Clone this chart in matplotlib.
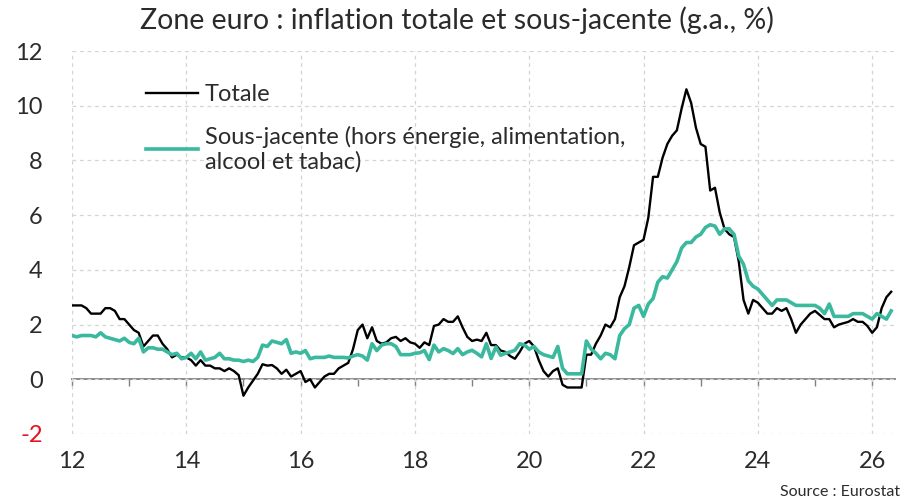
import numpy as np
import matplotlib.pyplot as plt

plt.rcParams['font.family'] = ['Lato', 'DejaVu Sans']

# Inflation totale (g.a., %), mensuel, janv. 2012 -> mai 2026
totale_2012 = [2.7, 2.7, 2.7, 2.6, 2.4, 2.4, 2.4, 2.6, 2.6, 2.5, 2.2, 2.2]
totale_2013 = [2.0, 1.8, 1.7, 1.2, 1.4, 1.6, 1.6, 1.3, 1.1, 0.8, 0.9, 0.8]
totale_2014 = [0.8, 0.7, 0.5, 0.7, 0.5, 0.5, 0.4, 0.4, 0.3, 0.4, 0.3, 0.15]
totale_2015 = [-0.6, -0.3, -0.05, 0.2, 0.55, 0.5, 0.52, 0.4, 0.2, 0.35, 0.1, 0.2]
totale_2016 = [0.3, -0.1, 0.0, -0.3, -0.1, 0.1, 0.2, 0.2, 0.4, 0.5, 0.6, 1.1]
totale_2017 = [1.8, 2.0, 1.5, 1.9, 1.4, 1.3, 1.35, 1.5, 1.55, 1.4, 1.5, 1.35]
totale_2018 = [1.3, 1.15, 1.35, 1.25, 1.95, 2.0, 2.2, 2.1, 2.1, 2.3, 1.9, 1.55]
totale_2019 = [1.4, 1.45, 1.4, 1.7, 1.25, 1.25, 1.05, 1.0, 0.85, 0.75, 1.0, 1.3]
totale_2020 = [1.4, 1.2, 0.7, 0.3, 0.1, 0.3, 0.4, -0.2, -0.3, -0.3, -0.3, -0.3]
totale_2021 = [0.9, 0.9, 1.3, 1.6, 2.0, 1.9, 2.2, 3.0, 3.4, 4.1, 4.9, 5.0]
totale_2022 = [5.1, 5.9, 7.4, 7.4, 8.1, 8.6, 8.9, 9.1, 9.9, 10.6, 10.1, 9.2]
totale_2023 = [8.6, 8.5, 6.9, 7.0, 6.1, 5.5, 5.3, 5.2, 4.3, 2.9, 2.4, 2.9]
totale_2024 = [2.8, 2.6, 2.4, 2.4, 2.6, 2.5, 2.6, 2.2, 1.7, 2.0, 2.2, 2.4]
totale_2025 = [2.5, 2.35, 2.2, 2.2, 1.9, 2.0, 2.05, 2.1, 2.2, 2.1, 2.1, 1.95]
totale_2026 = [1.7, 1.9, 2.6, 3.0, 3.2]

# Inflation sous-jacente (hors énergie, alimentation, alcool et tabac)
sj_2012 = [1.6, 1.55, 1.6, 1.6, 1.6, 1.55, 1.7, 1.55, 1.5, 1.45, 1.4, 1.5]
sj_2013 = [1.35, 1.3, 1.5, 1.0, 1.15, 1.15, 1.1, 1.1, 1.0, 0.9, 0.95, 0.75]
sj_2014 = [0.8, 0.95, 0.75, 1.0, 0.7, 0.75, 0.8, 0.95, 0.75, 0.75, 0.7, 0.7]
sj_2015 = [0.65, 0.7, 0.65, 0.8, 1.25, 1.2, 1.4, 1.35, 1.3, 1.45, 0.95, 1.0]
sj_2016 = [0.95, 1.05, 0.75, 0.8, 0.8, 0.8, 0.85, 0.8, 0.8, 0.8, 0.78, 0.85]
sj_2017 = [0.9, 0.85, 0.7, 1.3, 1.05, 1.25, 1.3, 1.3, 1.2, 0.9, 0.9, 0.9]
sj_2018 = [0.95, 0.97, 1.05, 0.72, 1.25, 1.0, 1.12, 1.05, 0.94, 1.12, 0.9, 1.0]
sj_2019 = [1.06, 0.95, 0.82, 1.3, 0.76, 1.18, 0.88, 0.95, 1.0, 1.06, 1.3, 1.25]
sj_2020 = [1.1, 1.2, 1.0, 0.9, 0.85, 0.8, 1.2, 0.4, 0.2, 0.2, 0.2, 0.2]
sj_2021 = [1.4, 1.1, 0.95, 0.75, 0.95, 0.9, 0.75, 1.6, 1.85, 2.0, 2.6, 2.7]
sj_2022 = [2.3, 2.75, 2.95, 3.55, 3.75, 3.7, 4.0, 4.3, 4.8, 5.0, 5.0, 5.2]
sj_2023 = [5.3, 5.55, 5.65, 5.6, 5.3, 5.5, 5.5, 5.3, 4.5, 4.2, 3.6, 3.4]
sj_2024 = [3.3, 3.1, 2.9, 2.7, 2.9, 2.9, 2.9, 2.8, 2.7, 2.7, 2.7, 2.7]
sj_2025 = [2.7, 2.6, 2.4, 2.75, 2.3, 2.3, 2.3, 2.3, 2.4, 2.4, 2.4, 2.3]
sj_2026 = [2.2, 2.4, 2.3, 2.2, 2.5]

annees_ticks = [12, 14, 16, 18, 20, 22, 24, 26]
y_ticks = [-2, 0, 2, 4, 6, 8, 10, 12]

totale = np.concatenate([totale_2012, totale_2013, totale_2014, totale_2015, totale_2016,
                         totale_2017, totale_2018, totale_2019, totale_2020, totale_2021,
                         totale_2022, totale_2023, totale_2024, totale_2025, totale_2026])
sous_jacente = np.concatenate([sj_2012, sj_2013, sj_2014, sj_2015, sj_2016, sj_2017, sj_2018,
                               sj_2019, sj_2020, sj_2021, sj_2022, sj_2023, sj_2024, sj_2025,
                               sj_2026])
x = 12 + np.arange(len(totale)) / 12

texte = '#2b2b2b'
gris = '#808080'

fig = plt.figure(figsize=(9.07, 5.03), dpi=100)
ax = fig.add_axes([72 / 907, 1 - 434 / 503, (895 - 72) / 907, (434 - 51) / 503])

l_tot, = ax.plot(x, totale, color='black', lw=1.7, label='Totale', zorder=3)
l_sj, = ax.plot(x, sous_jacente, color='#3bb99e', lw=2.6,
                label='Sous-jacente (hors énergie, alimentation,\nalcool et tabac)', zorder=4)

ax.set_xlim(12, 26.4)
ax.set_ylim(-2, 12)
ax.set_xticks(annees_ticks)
ax.set_xticklabels([str(a) for a in annees_ticks])
ax.set_yticks(y_ticks)
ax.set_yticklabels([str(v) for v in y_ticks])
ax.tick_params(axis='x', length=0, pad=12, labelsize=17, labelcolor=texte)
ax.tick_params(axis='y', length=0, pad=21, labelsize=17, labelcolor=texte)
ax.get_yticklabels()[0].set_color('#e8101a')

ax.grid(True, color='#d4d4d4', lw=0.9, ls=(0, (3, 3)))
ax.set_axisbelow(True)
for s in ax.spines.values():
    s.set_visible(False)

# axe du zéro avec graduations annuelles
axe0 = ax.secondary_xaxis(2 / 14)
axe0.set_xticks(range(12, 27))
axe0.tick_params(axis='x', length=5, width=1, color=gris, labelbottom=False)
axe0.spines['bottom'].set_color(gris)
axe0.spines['bottom'].set_linewidth(1.3)

ax.legend(handles=[l_tot, l_sj], loc='upper left', bbox_to_anchor=(146 / 907, 1 - 84 / 503),
          bbox_transform=fig.transFigure, frameon=False, fontsize=17, handlelength=2.2,
          handletextpad=0.3, labelspacing=0.87, borderpad=0, borderaxespad=0,
          labelcolor=texte)

fig.text(0.504, 1 - 20 / 503, 'Zone euro : inflation totale et sous-jacente (g.a., %)',
         ha='center', va='center', fontsize=20.5, color=texte)
fig.text(900 / 907, 1 - 492 / 503, 'Source : Eurostat', ha='right', va='center',
         fontsize=11.5, color=texte)

fig.savefig('out.png', dpi=100)
